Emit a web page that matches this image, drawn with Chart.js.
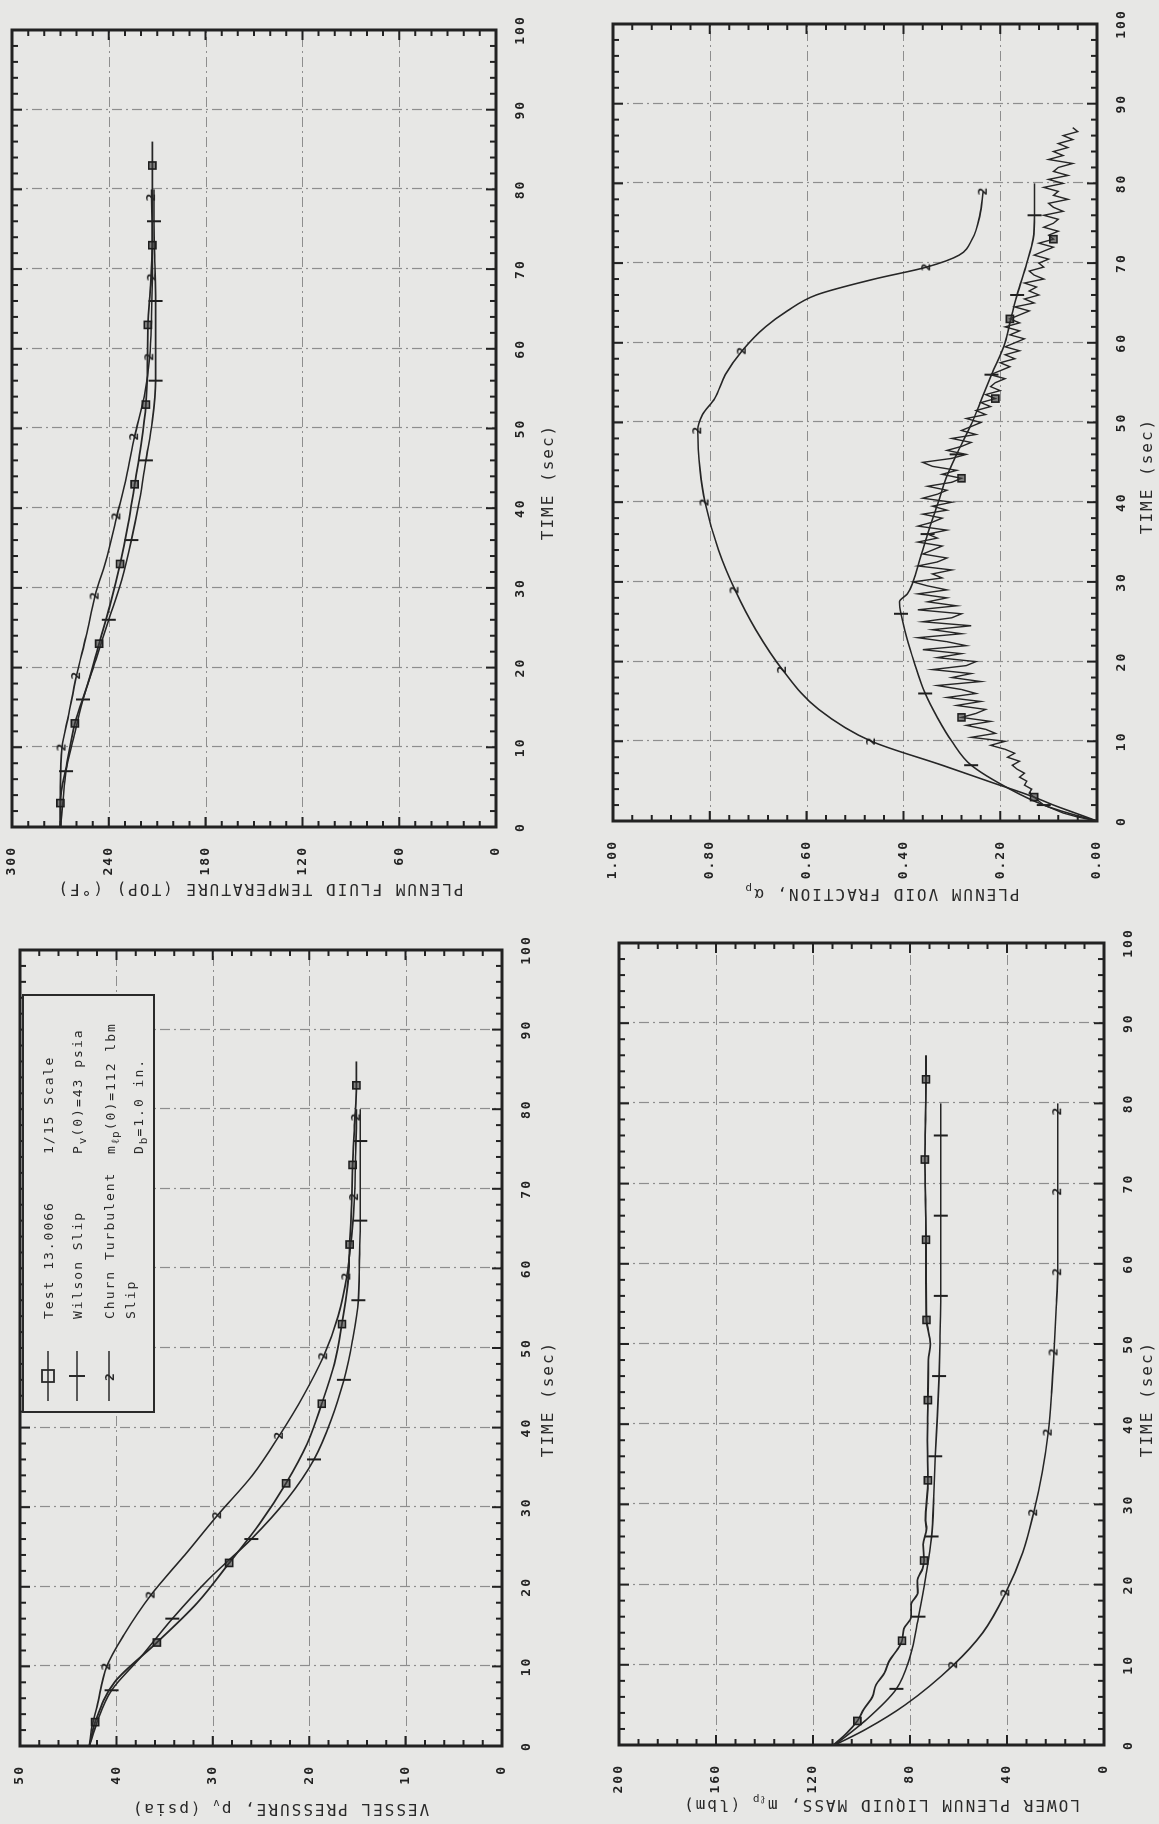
<!DOCTYPE html>
<html>
<head>
<meta charset="utf-8">
<script src="https://cdn.jsdelivr.net/npm/chart.js@4.4.1/dist/chart.umd.min.js"></script>
<style>
html, body { margin: 0; padding: 0; background: #e7e7e5; }
body { width: 1159px; height: 1824px; overflow: hidden; position: relative; }
#page { position: absolute; left: 0; top: 0; width: 1824px; height: 1159px;
  transform-origin: 0 0; transform: translate(0, 1824px) rotate(-90deg);
  font-family: 'DejaVu Sans Mono', monospace; color: #2a2a2a; }
#page canvas { position: absolute; }
.ytitle, .xtitle { position: absolute; white-space: nowrap; font-size: 16px; letter-spacing: 2px; }
.ytitle { transform: translate(-50%, -50%) rotate(-90deg); }
.xtitle { transform: translate(-50%, -50%); }
sub { font-size: 11px; vertical-align: -4px; letter-spacing: 1px; line-height: 0; }
#legend { position: absolute; left: 411px; top: 22px; width: 415px; height: 129px;
  border: 2px solid #2a2a2a; background: #e7e7e5; font-size: 13px; letter-spacing: 2px; }
#legend span { position: absolute; white-space: nowrap; transform: translateY(-50%); }
#legend svg { position: absolute; left: 10px; }
</style>
</head>
<body>
<div id="page">
  <canvas id="cP"></canvas>
  <canvas id="cT"></canvas>
  <canvas id="cM"></canvas>
  <canvas id="cV"></canvas>

  <div class="ytitle" style="left:14px;top:280px">VESSEL PRESSURE, p<sub>v</sub> (psia)</div>
  <div class="ytitle" style="left:934px;top:260px">PLENUM FLUID TEMPERATURE (TOP) (°F)</div>
  <div class="ytitle" style="left:18px;top:881px">LOWER PLENUM LIQUID MASS, m<sub>ℓp</sub> (lbm)</div>
  <div class="ytitle" style="left:929px;top:882px">PLENUM VOID FRACTION, α<sub>p</sub></div>

  <div class="xtitle" style="left:425px;top:547px">TIME (sec)</div>
  <div class="xtitle" style="left:1342px;top:547px">TIME (sec)</div>
  <div class="xtitle" style="left:425px;top:1146px">TIME (sec)</div>
  <div class="xtitle" style="left:1348px;top:1146px">TIME (sec)</div>

  <div id="legend">
    <svg width="52" height="20" style="top:14px"><line x1="0" y1="10" x2="50" y2="10" stroke="#2a2a2a" stroke-width="1.6"/><rect x="19" y="4" width="12" height="12" fill="none" stroke="#2a2a2a" stroke-width="1.8"/></svg>
    <svg width="52" height="20" style="top:43px"><line x1="0" y1="10" x2="50" y2="10" stroke="#2a2a2a" stroke-width="1.6"/><line x1="25" y1="2" x2="25" y2="18" stroke="#2a2a2a" stroke-width="2"/></svg>
    <svg width="52" height="20" style="top:75px"><line x1="0" y1="10" x2="50" y2="10" stroke="#2a2a2a" stroke-width="1.6"/><text x="25" y="15" text-anchor="middle" font-size="13" font-weight="bold" font-family="DejaVu Sans Mono" fill="#2a2a2a">2</text></svg>
    <span style="left:92px;top:24px">Test 13.0066</span>
    <span style="left:257px;top:24px">1/15 Scale</span>
    <span style="left:92px;top:53px">Wilson Slip</span>
    <span style="left:257px;top:53px">P<sub>v</sub>(0)=43 psia</span>
    <span style="left:92px;top:85px">Churn Turbulent</span>
    <span style="left:257px;top:86px">m<sub>ℓp</sub>(0)=112 lbm</span>
    <span style="left:92px;top:106px">Slip</span>
    <span style="left:257px;top:114px">D<sub>b</sub>=1.0 in.</span>
  </div>
</div>

<script>
// 時間軸 (sec) — 每條曲線的取樣時刻
const testT   = [0, 3, 8, 13, 18, 23, 28, 33, 38, 43, 48, 53, 58, 63, 68, 73, 78, 83, 86];
const wilsonT = [0, 3, 7, 11, 16, 21, 26, 31, 36, 41, 46, 51, 56, 61, 66, 71, 76, 80];
const churnT  = [0, 2, 5, 10, 14, 19, 24, 29, 34, 39, 44, 49, 54, 59, 64, 69, 74, 79, 80];

// 標記所在時刻
const testMarks   = [3, 13, 23, 33, 43, 53, 63, 73, 83];
const wilsonMarks = [7, 16, 26, 36, 46, 56, 66, 76];
const churnMarks  = [10, 19, 29, 39, 49, 59, 69, 79];

// 1. 容器壓力 (psia)
const pressTest   = [42.8, 42.2, 40.2, 35.8, 31.6, 28.3, 25.1, 22.4, 20.2, 18.7, 17.4, 16.6, 16.0, 15.8, 15.6, 15.5, 15.3, 15.1, 15.1];
const pressWilson = [42.8, 42.0, 40.5, 37.6, 34.2, 30.4, 26.0, 22.3, 19.5, 17.7, 16.4, 15.5, 14.9, 14.8, 14.7, 14.7, 14.7, 14.7];
const pressChurn  = [42.8, 42.6, 42.0, 41.0, 39.2, 36.4, 32.9, 29.5, 25.9, 23.1, 20.6, 18.5, 17.0, 16.1, 15.6, 15.3, 15.2, 15.1, 15.1];

// 2. 上部流體溫度 (°F)
const tempTest   = [270, 270, 266, 261, 253, 246, 239, 233, 228, 224, 220, 217, 216, 215.8, 214, 213, 213, 213, 213];
const tempWilson = [270, 268.5, 266.5, 262, 256, 248, 240, 232, 226, 221, 217, 213, 211, 211, 211, 211.5, 212, 212];
const tempChurn  = [270, 270, 270, 269, 265, 260, 254, 248.5, 241, 235, 229, 224, 218, 214.6, 213.5, 213, 213, 213.5, 213.5];

// 3. 下腔室液體質量 (lbm)
const massTestT  = [0, 1.5, 3, 4.5, 6, 7.5, 9, 10.5, 12, 13, 14.5, 16, 17.5, 19, 20.5, 22, 23, 25, 27, 28, 33, 38, 43, 48, 50, 53, 58, 63, 68, 73, 78, 83, 86];
const massTest   = [111.6, 106, 101.7, 99, 95.5, 94, 90.5, 88.5, 85, 83.3, 82.5, 79.5, 79.5, 76.8, 77, 74.8, 74.2, 74.6, 73.2, 73.6, 72.6, 72.8, 72.6, 72.4, 71.6, 73.2, 73.4, 73.4, 73.6, 73.9, 73.6, 73.4, 73.4];
const massWilson = [111, 98.6, 85.6, 80, 76.5, 73.5, 71.1, 70.2, 69.6, 68.7, 68, 67.6, 67.3, 67.3, 67.3, 67.3, 67.3, 67.3];
const massChurn  = [111, 98, 82, 62, 50, 40.5, 33.5, 29, 25.5, 23, 21.6, 20.6, 19.8, 19.1, 19.1, 19.1, 19.1, 19.1, 19.1];

// 4. 空泡分率
const voidChurnT = [0, 1, 2, 3, 5, 7, 10, 14, 19, 24, 29, 34, 40, 44, 49, 51, 53, 56, 59, 62, 64, 66, 68, 69.5, 71, 73, 76, 79];
const voidChurn  = [0, 0.045, 0.09, 0.13, 0.225, 0.32, 0.466, 0.575, 0.65, 0.705, 0.748, 0.782, 0.81, 0.82, 0.825, 0.815, 0.79, 0.768, 0.733, 0.685, 0.64, 0.58, 0.46, 0.352, 0.285, 0.258, 0.242, 0.235];
const voidChurnMarks = [10, 19, 29, 40, 49, 59, 69.5, 79];
const voidWilsonT = [0, 1, 2, 4, 7, 10, 13, 16, 20, 23, 26, 27.5, 28.5, 30, 33, 36, 40, 43, 46, 50, 53, 56, 60, 63, 66, 70, 73, 76, 80];
const voidWilson  = [0, 0.06, 0.11, 0.18, 0.26, 0.30, 0.33, 0.355, 0.378, 0.393, 0.405, 0.408, 0.392, 0.38, 0.365, 0.35, 0.328, 0.312, 0.29, 0.258, 0.238, 0.218, 0.19, 0.178, 0.165, 0.145, 0.132, 0.129, 0.129];
const voidWilsonMarks = [2, 7, 16, 26, 36, 46, 56, 66, 76];
// 實驗量測 (每 0.5 秒一筆, 0 ~ 87 秒)
const voidTestStep = 0.5;
const voidTest = [
  0.00, 0.04, 0.07, 0.09, 0.11, 0.12, 0.13,
  0.14, 0.135, 0.15, 0.145, 0.16, 0.15, 0.165, 0.175, 0.16, 0.185, 0.17, 0.19,
  0.22, 0.19, 0.26, 0.21, 0.23, 0.27, 0.22, 0.28, 0.25, 0.23, 0.29, 0.24,
  0.31, 0.25, 0.28, 0.33, 0.24, 0.30, 0.26, 0.34, 0.27, 0.25, 0.33, 0.28,
  0.36, 0.27, 0.31, 0.37, 0.28, 0.34, 0.26, 0.36, 0.30, 0.28, 0.37, 0.29, 0.35, 0.31,
  0.37, 0.31, 0.35, 0.38, 0.32, 0.34, 0.30, 0.37, 0.33, 0.31, 0.36, 0.34, 0.32, 0.37,
  0.33, 0.35, 0.31, 0.37, 0.34, 0.32, 0.36, 0.31, 0.34, 0.30, 0.36, 0.33, 0.31, 0.35, 0.30, 0.28, 0.32, 0.29, 0.34, 0.36,
  0.30, 0.27, 0.31, 0.28, 0.26, 0.30, 0.25, 0.28, 0.26, 0.24,
  0.27, 0.23, 0.25, 0.22, 0.24, 0.21, 0.23, 0.20, 0.22, 0.21, 0.19, 0.22, 0.20, 0.18,
  0.20, 0.17, 0.19, 0.16, 0.19, 0.17, 0.15, 0.18, 0.16, 0.19, 0.16, 0.18,
  0.16, 0.14, 0.17, 0.13, 0.15, 0.12, 0.14, 0.125, 0.15, 0.11, 0.13, 0.14, 0.11, 0.12,
  0.10, 0.13, 0.11, 0.09, 0.12, 0.09, 0.10, 0.08, 0.11, 0.09,
  0.08, 0.11, 0.07, 0.09, 0.10, 0.06, 0.09, 0.08, 0.11, 0.07, 0.10, 0.06, 0.09, 0.08, 0.05, 0.10, 0.07, 0.09, 0.06, 0.08, 0.05, 0.07, 0.04, 0.05
];
const voidTestMarks = [3, 13, 43, 53, 63, 73];

// ---- 樣式 ----
const INK = '#262626';
const FONT = 'DejaVu Sans Mono';
Chart.defaults.font.family = FONT;
Chart.defaults.color = '#222';

// 曲線上的 "2" 標記
function digitMarker(ch) {
    const c = document.createElement('canvas');
    c.width = 13; c.height = 15;
    const g = c.getContext('2d');
    g.font = 'bold 13px "' + FONT + '"';
    g.fillStyle = '#1e1e1e';
    g.textAlign = 'center';
    g.textBaseline = 'middle';
    g.fillText(ch, 6.5, 8);
    return c;
}
const twoMark = digitMarker('2');

const zip = (xs, ys) => ys.map((v, i) => ({ x: xs[i], y: v }));
const markRadius = (marks, r) => ctx => (ctx.raw && marks.includes(ctx.raw.x)) ? r : 0;

function testSet(data, marks) {
    return { data, borderColor: INK, borderWidth: 1.8, cubicInterpolationMode: 'monotone',
        pointStyle: 'rect', pointRadius: markRadius(marks, 5), pointBackgroundColor: 'rgba(60,60,60,0.6)',
        pointBorderColor: '#1e1e1e', pointBorderWidth: 1.6 };
}
function wilsonSet(data, marks) {
    return { data, borderColor: INK, borderWidth: 1.6, cubicInterpolationMode: 'monotone',
        pointStyle: 'line', rotation: 90, pointRadius: markRadius(marks, 7),
        pointBorderColor: '#1e1e1e', pointBorderWidth: 2 };
}
function churnSet(data, marks) {
    return { data, borderColor: INK, borderWidth: 1.6, cubicInterpolationMode: 'monotone',
        pointStyle: twoMark, pointRadius: markRadius(marks, 6) };
}

// 框線、點劃格線與內側刻度
const framePlugin = {
    id: 'frame',
    beforeDraw(chart) { chart.ctx.letterSpacing = '2px'; },
    beforeDatasetsDraw(chart, args, o) {
        const { ctx, chartArea: a, scales: { x, y } } = chart;
        ctx.save();
        ctx.letterSpacing = '0px';
        ctx.strokeStyle = '#8e8e8e';
        ctx.lineWidth = 1.2;
        ctx.setLineDash([10, 4, 2, 4]);
        ctx.beginPath();
        x.ticks.forEach(t => {
            if (t.value <= x.min || t.value >= x.max) return;
            const p = Math.round(x.getPixelForValue(t.value)) + 0.5;
            ctx.moveTo(p, a.top); ctx.lineTo(p, a.bottom);
        });
        y.ticks.forEach(t => {
            if (t.value <= y.min || t.value >= y.max) return;
            const p = Math.round(y.getPixelForValue(t.value)) + 0.5;
            ctx.moveTo(a.left, p); ctx.lineTo(a.right, p);
        });
        ctx.stroke();
        ctx.setLineDash([]);

        ctx.strokeStyle = '#222';
        ctx.lineWidth = 2;
        ctx.beginPath();
        const isMajor = (v, m) => Math.abs(v / m - Math.round(v / m)) < 1e-6;
        const nx = Math.round((x.max - x.min) / o.xMinor);
        for (let i = 0; i <= nx; i++) {
            const v = x.min + i * o.xMinor;
            const p = x.getPixelForValue(v);
            const len = isMajor(v, o.xMajor) ? 10 : 6;
            ctx.moveTo(p, a.bottom); ctx.lineTo(p, a.bottom - len);
            ctx.moveTo(p, a.top); ctx.lineTo(p, a.top + len);
        }
        const ny = Math.round((y.max - y.min) / o.yMinor);
        for (let i = 0; i <= ny; i++) {
            const v = y.min + i * o.yMinor;
            const p = y.getPixelForValue(v);
            const len = isMajor(v - y.min, o.yMajor) ? 10 : 6;
            ctx.moveTo(a.left, p); ctx.lineTo(a.left + len, p);
            ctx.moveTo(a.right, p); ctx.lineTo(a.right - len, p);
        }
        ctx.stroke();
        ctx.lineWidth = 3;
        ctx.strokeRect(a.left, a.top, a.right - a.left, a.bottom - a.top);
        ctx.restore();
    }
};

const Y_W = 78, X_H = 78, PAD_T = 20, PAD_R = 26;
const tickFont = { size: 13, weight: 'bold' };

function makeChart(id, area, yMin, yMax, yStep, yMinor, fmt, datasets) {
    const cv = document.getElementById(id);
    cv.width = area.r - area.l + Y_W + PAD_R;
    cv.height = area.b - area.t + PAD_T + X_H;
    cv.style.left = (area.l - Y_W) + 'px';
    cv.style.top = (area.t - PAD_T) + 'px';
    return new Chart(cv.getContext('2d'), {
        type: 'line',
        data: { datasets },
        plugins: [framePlugin],
        options: {
            responsive: false,
            animation: false,
            devicePixelRatio: 1,
            layout: { padding: { top: PAD_T, right: PAD_R, left: 0, bottom: 0 } },
            plugins: { legend: { display: false }, tooltip: { enabled: false },
                frame: { xMinor: 2, xMajor: 10, yMinor, yMajor: yStep } },
            scales: {
                x: { type: 'linear', min: 0, max: 100,
                    ticks: { stepSize: 10, padding: 9, maxRotation: 0, font: tickFont, color: '#222' },
                    grid: { display: false }, border: { display: false },
                    afterFit: s => { s.height = X_H; } },
                y: { type: 'linear', min: yMin, max: yMax,
                    ticks: { stepSize: yStep, padding: 11, font: tickFont, color: '#222', callback: fmt },
                    grid: { display: false }, border: { display: false },
                    afterFit: s => { s.width = Y_W; } }
            }
        }
    });
}

const plain = v => String(v);

makeChart('cP', { l: 78, t: 20, r: 874, b: 502 }, 0, 50, 10, 2, plain, [
    testSet(zip(testT, pressTest), testMarks),
    wilsonSet(zip(wilsonT, pressWilson), wilsonMarks),
    churnSet(zip(churnT, pressChurn), churnMarks)
]);

makeChart('cT', { l: 997, t: 12, r: 1794, b: 496 }, 0, 300, 60, 10, plain, [
    testSet(zip(testT, tempTest), testMarks),
    wilsonSet(zip(wilsonT, tempWilson), wilsonMarks),
    churnSet(zip(churnT, tempChurn), churnMarks)
]);

makeChart('cM', { l: 79, t: 619, r: 881, b: 1104 }, 0, 200, 40, 8, plain, [
    testSet(zip(massTestT, massTest), testMarks),
    wilsonSet(zip(wilsonT, massWilson), wilsonMarks),
    churnSet(zip(churnT, massChurn), churnMarks)
]);

const voidTestData = voidTest.map((v, i) => ({ x: i * voidTestStep, y: v }));
const voidTestSet = testSet(voidTestData, voidTestMarks);
voidTestSet.cubicInterpolationMode = 'default';
voidTestSet.tension = 0;
voidTestSet.borderWidth = 1.4;

makeChart('cV', { l: 1003, t: 613, r: 1800, b: 1097 }, 0, 1, 0.2, 0.04, v => Number(v).toFixed(2), [
    voidTestSet,
    wilsonSet(zip(voidWilsonT, voidWilson), voidWilsonMarks),
    churnSet(zip(voidChurnT, voidChurn), voidChurnMarks)
]);
</script>
</body>
</html>
